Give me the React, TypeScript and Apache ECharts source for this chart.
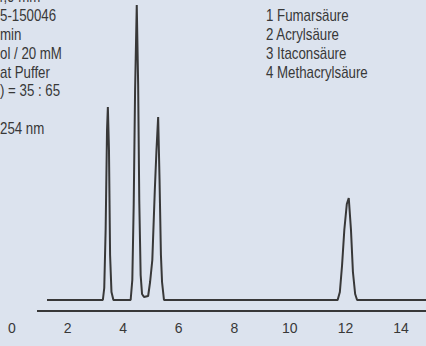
import React, { useEffect, useRef } from "react";
import * as echarts from "echarts";

// Retention time (min) and detector signal (arbitrary units, baseline = 0)
const chromTime = [
  1.26, 3.27, 3.32, 3.37, 3.42, 3.45, 3.49, 3.53, 3.58, 3.65,
  4.27, 4.33, 4.38, 4.43, 4.49, 4.54, 4.58, 4.63, 4.68, 4.75,
  4.9, 4.97, 5.05, 5.14, 5.2, 5.26, 5.31, 5.36, 5.4, 5.47,
  11.72, 11.8, 11.88, 11.96, 12.05, 12.12, 12.2, 12.27, 12.35, 12.42, 14.9,
];
const chromSignal = [
  0, 0, 12, 70, 170, 193, 150, 45, 8, 0,
  0, 20, 95, 210, 295, 215, 100, 25, 6, 3,
  4, 18, 40, 110, 150, 183, 120, 45, 18, 0,
  0, 8, 35, 70, 96, 102, 70, 28, 6, 0, 0,
];
const axisLineTime = [0.9, 14.9];
const axisLineValue = [-11, -11];
const tickLabels = [0, 2, 4, 6, 8, 10, 12, 14];

const methodLines = [
  "4,0 mm",
  "5-150046",
  "min",
  "ol / 20 mM",
  "at Puffer",
  ") = 35 : 65",
  "",
  "254 nm",
];
const methodLineX = [-4, 0, 0, 0, 0, 0, 0, 0];
const legendLines = ["1 Fumarsäure", "2 Acrylsäure", "3 Itaconsäure", "4 Methacrylsäure"];

const FONT = "'Liberation Sans', Arial, sans-serif";
const INK = "#383838";
const BG = "#dce3ee";
const NARROW = 0.83;

export default function App() {
  const ref = useRef<HTMLDivElement>(null);

  useEffect(() => {
    document.body.style.margin = "0";
    if (!ref.current) return;
    const chart = echarts.init(ref.current, null, { renderer: "svg" });

    const signalData = chromTime.map((t, i) => [t, chromSignal[i]]);
    const axisData = axisLineTime.map((t, i) => [t, axisLineValue[i]]);

    const texts: any[] = [];
    methodLines.forEach((s, i) => {
      if (!s) return;
      texts.push({
        type: "text",
        x: methodLineX[i],
        y: -3 + i * 18.8,
        scaleX: NARROW,
        style: {
          text: s,
          font: `16px ${FONT}`,
          fill: INK,
          textVerticalAlign: "middle",
          textAlign: "left",
        },
      });
    });
    legendLines.forEach((s, i) => {
      texts.push({
        type: "text",
        x: 266,
        y: 15.5 + i * 19,
        scaleX: NARROW,
        style: {
          text: s,
          font: `16px ${FONT}`,
          fill: INK,
          textVerticalAlign: "middle",
          textAlign: "left",
        },
      });
    });

    chart.setOption({
      animation: false,
      backgroundColor: BG,
      grid: { left: 12, right: 0, top: 0, bottom: 35, containLabel: false },
      xAxis: {
        type: "value",
        min: 0,
        max: 14.9,
        interval: 2,
        axisLine: { show: false },
        axisTick: { show: false },
        splitLine: { show: false },
        axisLabel: {
          margin: 10,
          color: INK,
          fontSize: 14,
          fontFamily: FONT,
          showMaxLabel: false,
          formatter: (v: number) => (tickLabels.indexOf(v) >= 0 ? String(v) : ""),
        },
      },
      yAxis: {
        type: "value",
        min: -11,
        max: 300,
        show: false,
        splitLine: { show: false },
      },
      series: [
        {
          type: "line",
          name: "axis",
          data: axisData,
          symbol: "none",
          clip: false,
          silent: true,
          lineStyle: { color: INK, width: 2 },
        },
        {
          type: "line",
          name: "signal",
          data: signalData,
          symbol: "none",
          smooth: false,
          clip: false,
          lineStyle: { color: INK, width: 2 },
        },
      ],
      graphic: texts,
    });

    return () => chart.dispose();
  }, []);

  return <div ref={ref} style={{ width: 426, height: 346, background: BG }} />;
}
